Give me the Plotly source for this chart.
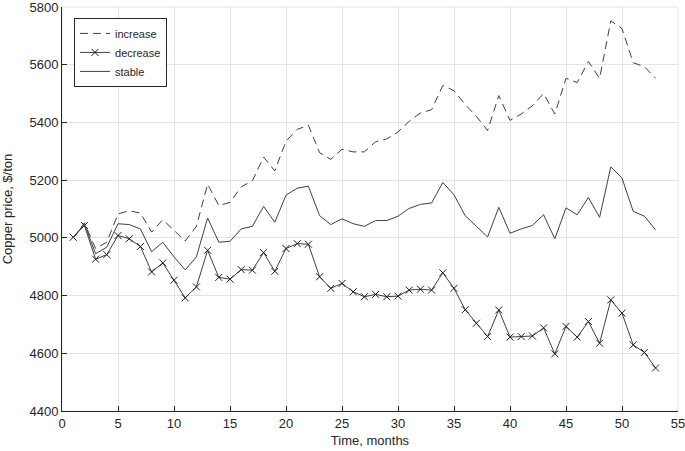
import plotly.graph_objects as go

months = list(range(1, 54))

increase = [5000, 5052, 4963, 4985, 5083, 5094, 5086, 5020, 5063, 5025,
            4989, 5040, 5186, 5112, 5123, 5177, 5198, 5280, 5232, 5335,
            5376, 5390, 5295, 5272, 5307, 5298, 5298, 5333, 5343, 5367,
            5404, 5433, 5444, 5528, 5510, 5462, 5421, 5372, 5493, 5407,
            5429, 5458, 5500, 5429, 5553, 5538, 5611, 5553, 5752, 5725,
            5607, 5593, 5553]

decrease = [5002, 5043, 4926, 4942, 5008, 4997, 4970, 4882, 4913, 4853,
            4792, 4830, 4957, 4863, 4857, 4890, 4888, 4949, 4884, 4963,
            4980, 4978, 4865, 4825, 4842, 4813, 4796, 4804, 4796, 4798,
            4819, 4822, 4819, 4879, 4825, 4751, 4704, 4658, 4750, 4656,
            4658, 4660, 4688, 4598, 4693, 4656, 4710, 4635, 4785, 4739,
            4629, 4603, 4549]

stable = [5000, 5049, 4945, 4968, 5049, 5046, 5031, 4952, 4985, 4934,
          4889, 4934, 5069, 4985, 4988, 5031, 5040, 5109, 5054, 5148,
          5172, 5179, 5077, 5046, 5066, 5049, 5040, 5060, 5060, 5075,
          5102, 5116, 5121, 5192, 5149, 5077, 5040, 5003, 5106, 5016,
          5031, 5043, 5080, 4997, 5104, 5080, 5140, 5071, 5246, 5207,
          5092, 5075, 5028]

x_ticks = list(range(0, 56, 5))
y_ticks = list(range(4400, 5801, 200))

line_col = "#404040"
axis_col = "#262626"
grid_col = "#e3e3e3"
font_family = "Liberation Sans, Arial, sans-serif"

fig = go.Figure()
fig.add_trace(go.Scatter(x=months, y=increase, mode="lines", name="increase",
                         line=dict(color=line_col, width=1, dash="8px,5px")))
fig.add_trace(go.Scatter(x=months, y=decrease, mode="lines+markers", name="decrease",
                         line=dict(color=line_col, width=1),
                         marker=dict(symbol="x-thin", size=7,
                                     line=dict(color="#202020", width=1))))
fig.add_trace(go.Scatter(x=months, y=stable, mode="lines", name="stable",
                         line=dict(color=line_col, width=1)))

fig.add_shape(type="rect", xref="paper", yref="paper", x0=0, y0=0, x1=1, y1=1,
              line=dict(color=grid_col, width=1), layer="below")

fig.update_layout(
    width=685, height=451,
    margin=dict(l=62, r=7, t=7, b=40, autoexpand=False),
    paper_bgcolor="white", plot_bgcolor="white",
    font=dict(family=font_family, size=13, color=axis_col),
    showlegend=True,
    legend=dict(x=0.0195, y=0.973, xanchor="left", yanchor="top",
                bgcolor="white", bordercolor=axis_col, borderwidth=1,
                font=dict(size=11, color=axis_col),
                tracegroupgap=0, itemwidth=30),
)

fig.update_xaxes(range=[0, 55], tickmode="array", tickvals=x_ticks,
                 showgrid=True, gridcolor=grid_col, gridwidth=1,
                 showline=True, linecolor=axis_col, linewidth=1,
                 ticks="inside", ticklen=5, tickcolor=axis_col,
                 zeroline=False, mirror=False, automargin=False,
                 ticklabeloverflow="allow",
                 title=dict(text="Time, months", standoff=6,
                            font=dict(size=13)),
                 tickfont=dict(size=13))
fig.update_yaxes(range=[4400, 5800], tickmode="array", tickvals=y_ticks,
                 showgrid=True, gridcolor=grid_col, gridwidth=1,
                 showline=True, linecolor=axis_col, linewidth=1,
                 ticks="inside", ticklen=5, tickcolor=axis_col,
                 zeroline=False, mirror=False, automargin=False,
                 ticklabeloverflow="allow",
                 title=dict(text="Copper price, $/ton", standoff=13,
                            font=dict(size=13)),
                 tickfont=dict(size=13))

fig.write_html("out.html",
               config={"displayModeBar": False},
               post_script="document.body.style.margin='0px';"
                           "document.body.style.overflow='hidden';")
